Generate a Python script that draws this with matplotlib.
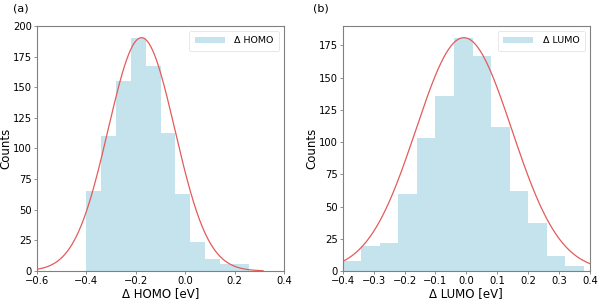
import numpy as np
import matplotlib
matplotlib.use('Agg')
import matplotlib.pyplot as plt

# histogram data
homo_edges = [-0.40, -0.34, -0.28, -0.22, -0.16, -0.10, -0.04, 0.02, 0.08, 0.14, 0.20, 0.26]
homo_counts = [65, 110, 155, 190, 167, 113, 63, 24, 10, 6, 6]

lumo_edges = [-0.40, -0.34, -0.28, -0.22, -0.16, -0.10, -0.04, 0.02, 0.08, 0.14, 0.20, 0.26, 0.32, 0.38]
lumo_counts = [8, 19, 22, 60, 103, 136, 181, 167, 112, 62, 37, 12, 4]

# gaussian fit parameters (peak height, mean, sigma) and plotted range
homo_fit = (190.5, -0.177, 0.135)
homo_fit_range = (-0.6, 0.315)
lumo_fit = (181.0, -0.008, 0.155)
lumo_fit_range = (-0.4, 0.4)

homo_xticks = [-0.6, -0.4, -0.2, 0.0, 0.2, 0.4]
lumo_xticks = [-0.4, -0.3, -0.2, -0.1, 0.0, 0.1, 0.2, 0.3, 0.4]

bar_color = '#add8e6'
line_color = '#e35b5b'
spine_color = '#808080'


def gauss(x, a, mu, s):
    return a * np.exp(-0.5 * ((x - mu) / s) ** 2)


def panel(ax, edges, counts, fit, fit_range, xlim, xticks, yticks, name):
    edges = np.array(edges)
    ax.bar(edges[:-1], counts, width=np.diff(edges), align='edge',
           color=bar_color, alpha=0.7, linewidth=0, label='Δ ' + name)
    xs = np.linspace(fit_range[0], fit_range[1], 300)
    ax.plot(xs, gauss(xs, *fit), color=line_color, lw=0.9)
    ax.set_xlim(*xlim)
    ax.set_ylim(0, max(counts) * 1.05)
    ax.set_xticks(xticks)
    ax.set_yticks(yticks)
    ax.set_xlabel('Δ ' + name + ' [eV]', fontsize=8.5, labelpad=1)
    ax.set_ylabel('Counts', fontsize=8.5)
    ax.yaxis.set_label_coords(-0.1, 0.5)
    ax.tick_params(labelsize=7.2, length=2.5, width=0.6, color=spine_color, pad=1.2)
    for sp in ax.spines.values():
        sp.set_color(spine_color)
        sp.set_linewidth(0.8)
    leg = ax.legend(loc='upper right', fontsize=6.8, handlelength=3.2,
                    borderpad=0.6, handletextpad=1.0)
    leg.get_frame().set_edgecolor('#dddddd')
    leg.get_frame().set_linewidth(0.6)


fig = plt.figure(figsize=(6, 3.01), dpi=100)
ax1 = fig.add_axes([0.0617, 0.0997, 0.4116, 0.8139])
ax2 = fig.add_axes([0.5712, 0.0997, 0.4121, 0.8139])

panel(ax1, homo_edges, homo_counts, homo_fit, homo_fit_range, (-0.6, 0.4),
      homo_xticks, range(0, 201, 25), 'HOMO')
panel(ax2, lumo_edges, lumo_counts, lumo_fit, lumo_fit_range, (-0.4, 0.4),
      lumo_xticks, range(0, 176, 25), 'LUMO')

fig.text(0.022, 0.972, '(a)', fontsize=8, va='center')
fig.text(0.521, 0.972, '(b)', fontsize=8, va='center')

fig.savefig('out.png', dpi=100)
